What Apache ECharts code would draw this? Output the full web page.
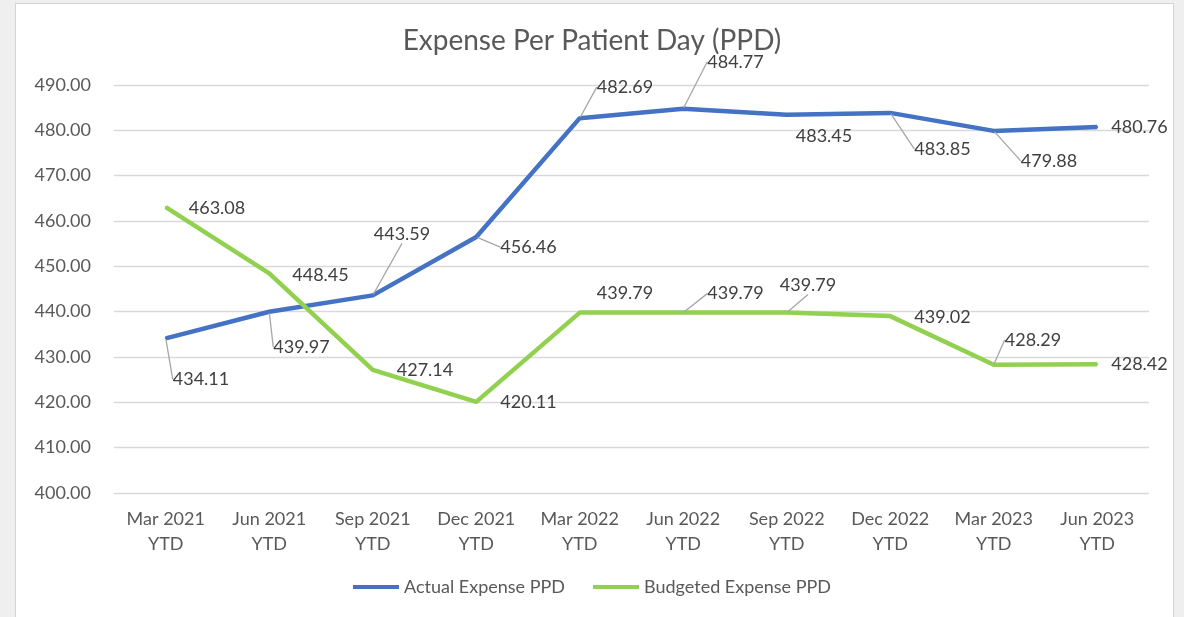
<!DOCTYPE html>
<html>
<head>
<meta charset="utf-8">
<title>Expense Per Patient Day (PPD)</title>
<script src="https://cdn.jsdelivr.net/npm/echarts@6/dist/echarts.min.js"></script>
<style>
    html, body { margin: 0; padding: 0; background: #efefef; }
    #frame { position: absolute; left: 15px; top: 3px; width: 1159px; height: 640px;
             background: #fff; border: 1px solid #d4d4d4; box-sizing: border-box; }
    #chart { position: absolute; left: 0; top: 0; width: 1184px; height: 617px; }
</style>
</head>
<body>
<div id="frame"></div>
<div id="chart"></div>
<script>
var categories = ['Mar 2021\nYTD', 'Jun 2021\nYTD', 'Sep 2021\nYTD', 'Dec 2021\nYTD', 'Mar 2022\nYTD',
                  'Jun 2022\nYTD', 'Sep 2022\nYTD', 'Dec 2022\nYTD', 'Mar 2023\nYTD', 'Jun 2023\nYTD'];
var actualPPD = [434.11, 439.97, 443.59, 456.46, 482.69, 484.77, 483.45, 483.85, 479.88, 480.76];
var budgetPPD = [463.08, 448.45, 427.14, 420.11, 439.79, 439.79, 439.79, 439.02, 428.29, 428.42];
var yMin = 400, yMax = 490, yStep = 10;

// where excel put each data label (offset from the "right" spot) and if it drew a leader
var actualShift = [[0, 41], [-3, 35], [-6, -61], [17, 10], [10, -31], [17, -47], [2, 21], [17, 36], [20, 30], [7, 0]];
var actualLeader = [1, 1, 1, 1, 1, 1, 0, 1, 1, 0];
var budgetShift = [[16, 1], [16, 2], [17, 0], [17, 0], [10, -19], [17, -19], [-14, -27], [17, 1], [4, -25], [7, 0]];
var budgetLeader = [0, 0, 0, 0, 0, 1, 1, 0, 1, 0];

(function () {
    'use strict';
    var font = 'Lato, "Open Sans", sans-serif';
    var chart = echarts.init(document.getElementById('chart'));

    function toItems(values, leader) {
        return values.map(function (v, i) {
            return { value: v, labelLine: { show: !!leader[i] } };
        });
    }

    function shiftFunc(shift) {
        return function (params) {
            var s = shift[params.dataIndex];
            return { dx: s[0], dy: s[1] };
        };
    }

    function lineSeries(name, values, color, shift, leader) {
        return {
            name: name,
            type: 'line',
            data: toItems(values, leader),
            symbol: 'circle',
            symbolSize: 2,
            itemStyle: { color: color },
            lineStyle: { color: color, width: 4.5 },
            label: {
                show: true,
                position: 'right',
                distance: 6,
                color: '#404040',
                fontFamily: font,
                fontSize: 18,
                formatter: function (p) { return p.value.toFixed(2); }
            },
            labelLine: { show: true, lineStyle: { color: '#a6a6a6', width: 1.3 } },
            labelLayout: shiftFunc(shift),
            animation: false
        };
    }

    var options = {
        backgroundColor: 'transparent',
        title: {
            text: 'Expense Per Patient Day (PPD)',
            left: 'center',
            top: 22,
            textStyle: { color: '#595959', fontFamily: font, fontSize: 28, fontWeight: 'normal' }
        },
        legend: {
            bottom: 16,
            left: 'center',
            itemWidth: 46,
            itemHeight: 4,
            itemGap: 28,
            icon: 'rect',
            textStyle: { color: '#595959', fontFamily: font, fontSize: 18 },
            data: ['Actual Expense PPD', 'Budgeted Expense PPD']
        },
        grid: { left: 114, right: 35, top: 85, bottom: 124, containLabel: false },
        xAxis: {
            type: 'category',
            data: categories,
            boundaryGap: true,
            axisLine: { show: false },
            axisTick: { show: false },
            axisLabel: { color: '#595959', fontFamily: font, fontSize: 18, lineHeight: 25, margin: 14 }
        },
        yAxis: {
            type: 'value',
            min: yMin,
            max: yMax,
            interval: yStep,
            axisLine: { show: false },
            axisTick: { show: false },
            splitLine: { lineStyle: { color: '#d9d9d9', width: 1.3 } },
            axisLabel: {
                color: '#595959', fontFamily: font, fontSize: 18, margin: 23,
                formatter: function (v) { return v.toFixed(2); }
            }
        },
        series: [
            lineSeries('Actual Expense PPD', actualPPD, '#4472c4', actualShift, actualLeader),
            lineSeries('Budgeted Expense PPD', budgetPPD, '#92d050', budgetShift, budgetLeader)
        ]
    };
    chart.setOption(options);
})();
</script>
</body>
</html>
